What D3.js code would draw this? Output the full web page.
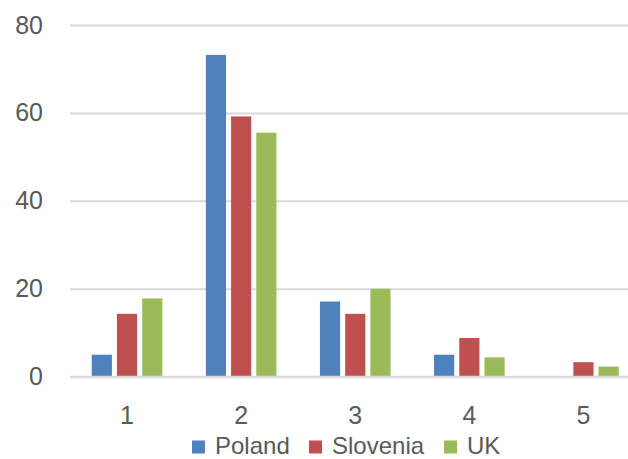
<!DOCTYPE html>
<html>
<head>
<meta charset="utf-8">
<script src="https://cdn.jsdelivr.net/npm/d3@7/dist/d3.min.js"></script>
<style>
  html, body { margin: 0; padding: 0; background: #fff; }
  svg { display: block; }
  text { font-family: "Liberation Sans", Arial, sans-serif; fill: #595959; }
</style>
</head>
<body>
<svg id="chart" width="628" height="459"></svg>
<script>
const categories = ["1", "2", "3", "4", "5"];
const seriesNames = ["Poland", "Slovenia", "UK"];
const poland   = [5, 73.2, 17.1, 5, 0];
const slovenia = [14.3, 59.2, 14.3, 8.8, 3.3];
const uk       = [17.8, 55.5, 20, 4.4, 2.3];
const seriesValues = [poland, slovenia, uk];
const colors = ["#4F81BD", "#C0504D", "#9BBB59"];
const yTicks = [0, 20, 40, 60, 80];

const svg = d3.select("#chart");

const x0 = d3.scaleBand().domain(categories).range([70, 640.5]).padding(0);
const groupW = 70.6;
const x1 = d3.scaleBand().domain(seriesNames).range([0, groupW]).paddingInner(0.2).paddingOuter(0);
const y = d3.scaleLinear().domain([0, 80]).range([376.7, 25]);

// gridlines
const yAxis = d3.axisLeft(y).tickValues(yTicks).tickSize(-(640.5 - 70)).tickPadding(27);
const gy = svg.append("g").attr("transform", "translate(70,0)").call(yAxis);
gy.select(".domain").remove();
gy.selectAll(".tick line").attr("stroke", "#D9D9D9").attr("stroke-width", 2);
gy.selectAll(".tick text").style("font-size", "25px").attr("fill", "#595959")
  .style("font-family", "'Liberation Sans', Arial, sans-serif");

// bars
const groups = svg.append("g").selectAll("g")
  .data(categories)
  .join("g")
  .attr("transform", d => `translate(${x0(d) + (x0.bandwidth() - groupW) / 2},0)`);

groups.selectAll("rect")
  .data((d, i) => seriesNames.map((s, j) => ({ s, v: seriesValues[j][i], c: colors[j] })))
  .join("rect")
  .attr("x", d => x1(d.s))
  .attr("width", x1.bandwidth())
  .attr("y", d => y(d.v))
  .attr("height", d => y(0) - y(d.v))
  .attr("fill", d => d.c);

// baseline axis line on top
svg.append("line")
  .attr("x1", 70).attr("x2", 640.5)
  .attr("y1", y(0)).attr("y2", y(0))
  .attr("stroke", "#D9D9D9").attr("stroke-width", 2);

// x axis labels
const xAxis = d3.axisBottom(x0).tickSize(0).tickPadding(0);
const gx = svg.append("g").call(xAxis);
gx.select(".domain").remove();
gx.selectAll(".tick text")
  .attr("y", 423.5).attr("dy", null)
  .style("font-size", "25px").attr("fill", "#595959")
  .style("font-family", "'Liberation Sans', Arial, sans-serif");

// legend
const legendItems = [
  { name: seriesNames[0], sx: 192, tx: 215 },
  { name: seriesNames[1], sx: 309, tx: 332 },
  { name: seriesNames[2], sx: 444, tx: 467 }
];
const lg = svg.append("g");
legendItems.forEach((it, i) => {
  lg.append("rect").attr("x", it.sx).attr("y", 440.5).attr("width", 13).attr("height", 13).attr("fill", colors[i]);
  lg.append("text").attr("x", it.tx).attr("y", 454).text(it.name).style("font-size", "24px");
});
</script>
</body>
</html>
